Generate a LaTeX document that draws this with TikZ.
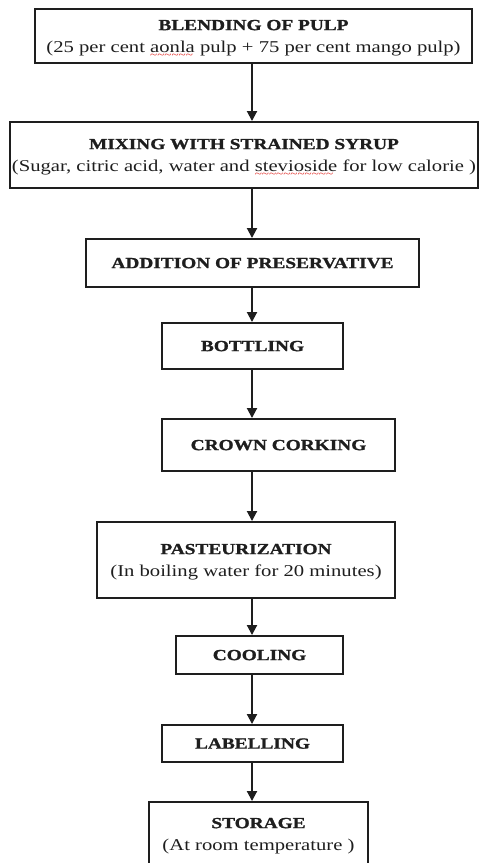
\documentclass[tikz,border=0pt]{standalone}
\usepackage{fontspec}
\setmainfont[FakeStretch=1.25,BoldFeatures={FakeBold=1.2}]{Liberation Serif}
\usetikzlibrary{arrows.meta,positioning}
\definecolor{cInk}{HTML}{1E1E1E}
\definecolor{cSpell}{HTML}{E0201B}
\newcommand{\spellmark}[1]{\setbox0\hbox{#1}%
  \rlap{\lower3.5pt\hbox to \wd0{\color{cSpell}\fontsize{6}{6}\selectfont
    \leaders\hbox{\char`\~}\hfill}}\box0\relax}
\newcommand{\steptitle}[1]{{\fontsize{8.8}{12.5}\selectfont\bfseries #1}}
\tikzset{
  flow/.style={-{Triangle[length=2mm,width=2mm]},line width=1.1pt,draw=cInk},
  stepbox/.style={draw=cInk,line width=1.1pt,align=center,inner sep=0pt,
                  font=\fontsize{9.4}{12.5}\selectfont,text=cInk,text depth=0pt}
}
\begin{document}
\begin{tikzpicture}[x=1cm,y=1cm]
  \useasboundingbox (0,0) rectangle (9.58,-17.26);
  \coordinate (spine) at (5.04,0);

  \node[stepbox,minimum width=8.74cm,minimum height=1.08cm] (blend) at (5.07,-0.72)
    {\steptitle{BLENDING OF PULP}\\(25 per cent \spellmark{aonla} pulp + 75 per cent mango pulp)};
  \node[stepbox,minimum width=9.36cm,minimum height=1.32cm] (mix) at (4.88,-3.10)
    {\steptitle{MIXING WITH STRAINED SYRUP}\\(Sugar, citric acid, water and \spellmark{stevioside} for low calorie )};
  \node[stepbox,minimum width=6.66cm,minimum height=0.96cm] (addn) at (5.05,-5.26)
    {\steptitle{ADDITION OF PRESERVATIVE}};
  \node[stepbox,minimum width=3.62cm,minimum height=0.92cm] (bottle) at (5.05,-6.92)
    {\steptitle{BOTTLING}};
  \node[stepbox,minimum width=4.66cm,minimum height=1.04cm] (crown) at (5.57,-8.90)
    {\steptitle{CROWN CORKING}};
  \node[stepbox,minimum width=5.96cm,minimum height=1.52cm] (pasteur) at (4.92,-11.20)
    {\steptitle{PASTEURIZATION}\\(In boiling water for 20 minutes)};
  \node[stepbox,minimum width=3.34cm,minimum height=0.76cm] (cool) at (5.19,-13.10)
    {\steptitle{COOLING}};
  \node[stepbox,minimum width=3.62cm,minimum height=0.74cm] (label) at (5.05,-14.87)
    {\steptitle{LABELLING}};
  \node[stepbox,minimum width=4.38cm,minimum height=1.28cm] (store) at (5.17,-16.68)
    {\steptitle{STORAGE}\\(At room temperature )};

  \foreach \a/\b in {blend/mix,mix/addn,addn/bottle,bottle/crown,crown/pasteur,
                     pasteur/cool,cool/label,label/store} {
    \draw[flow] (\a.south -| spine) -- (\b.north -| spine);
  }
\end{tikzpicture}
\end{document}
